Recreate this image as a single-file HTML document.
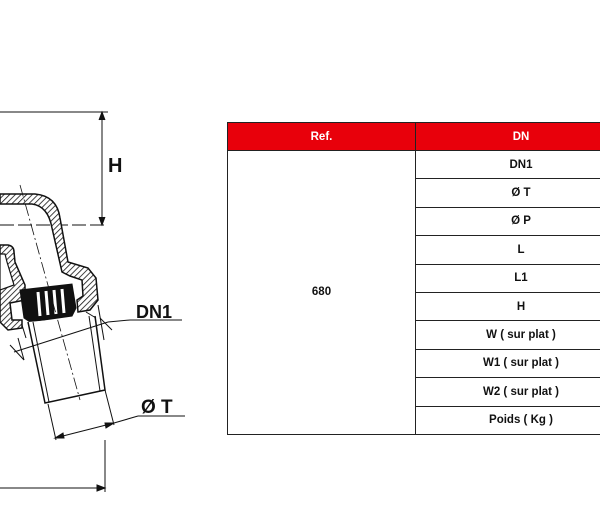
<!DOCTYPE html>
<html><head><meta charset="utf-8"><style>
html,body{margin:0;padding:0;background:#fff;}
body{width:600px;height:518px;position:relative;overflow:hidden;font-family:"Liberation Sans",Arial,sans-serif;}
table{position:absolute;left:227px;top:122px;border-collapse:collapse;width:400px;}
td{border:1px solid #222;text-align:center;font-weight:bold;font-size:11.5px;padding:0;color:#111;}
th{background:#e8000b;color:#fff;font-size:11.5px;font-weight:bold;height:27px;border:1px solid #222;padding:0;}
td.r{height:27.4px;}
</style></head><body>
<svg width="600" height="518" style="position:absolute;left:0;top:0">
<defs>
<pattern id="h" width="4" height="4" patternUnits="userSpaceOnUse" patternTransform="rotate(45)">
<rect width="4" height="4" fill="#fff"/><line x1="0" y1="0" x2="0" y2="4" stroke="#111" stroke-width="1.6"/></pattern>
</defs>
<g stroke="#111" fill="none" stroke-width="1">
<!-- dimension H -->
<line x1="0" y1="112" x2="108" y2="112"/>
<line x1="102" y1="112" x2="102" y2="225"/>
<path d="M99 120 L102 112 L105 120" fill="#111"/>
<path d="M99 217 L102 225 L105 217" fill="#111"/>
<line x1="0" y1="225" x2="108" y2="225" stroke-dasharray="14,4"/>
<!-- elbow body hatched -->
<path d="M0 194 L35 194 Q57 196 60 218 L68 262 L88 268 L96 278 L98 300 L90 310 L78 312 L77 300 L83 296 L82 280 L70 276 L62 272 L52 228 Q48 206 32 204 L0 204 Z" fill="url(#h)" stroke-width="1.5"/>
<!-- left inner part -->
<path d="M0 245 L8 245 Q14 246 14 252 L15 262 L25 285 L25 300 L10 303 L12 320 L22 320 L22 328 L8 330 L0 322 Z" fill="url(#h)" stroke-width="1.5"/>
<path d="M0 254 L5 254 L7 262 L14 285 L0 290 Z" fill="#fff" stroke-width="1.2"/>
<!-- gasket/insert black -->
<path d="M20 290 L72 284 L76 308 L72 316 L30 322 L24 318 Z" fill="#111"/>
<g stroke="#fff" stroke-width="3">
<line x1="38" y1="292" x2="40" y2="316"/>
<line x1="46" y1="291" x2="48" y2="315"/>
<line x1="54" y1="290" x2="56" y2="314"/>
<line x1="62" y1="289" x2="64" y2="313"/>
</g>
<!-- pipe -->
<path d="M28 322 L45 403 L105 390 L95 316" fill="#fff" stroke-width="1.5"/>
<path d="M33 322 L49 402" stroke-width="1"/>
<path d="M89 316 L100 391" stroke-width="1"/>
<path d="M22 325 L26 338 M86 312 L96 318" />
<!-- center line -->
<line x1="20" y1="185" x2="80" y2="400" stroke-dasharray="12,3,2,3" stroke-width="0.8"/>
<!-- DN1 dim -->
<line x1="14" y1="352" x2="108" y2="322"/>
<line x1="108" y1="322" x2="130" y2="320"/>
<line x1="130" y1="320" x2="182" y2="320"/>
<line x1="10" y1="345" x2="24" y2="360"/><line x1="100" y1="318" x2="112" y2="330"/>
<line x1="18" y1="338" x2="24" y2="360"/><line x1="98" y1="305" x2="104" y2="340"/>
<!-- OT dim -->
<line x1="48" y1="404" x2="56" y2="440"/>
<line x1="105" y1="390" x2="114" y2="425"/>
<line x1="55" y1="438" x2="114" y2="423"/>
<path d="M55 438 L63 433 L64 438Z" fill="#111"/><path d="M114 423 L106 428 L105 423Z" fill="#111"/>
<line x1="114" y1="423" x2="138" y2="416"/>
<line x1="138" y1="416" x2="185" y2="416"/>
<!-- bottom dim -->
<line x1="105" y1="440" x2="105" y2="492"/>
<line x1="0" y1="488" x2="105" y2="488"/>
<path d="M97 485 L105 488 L97 491Z" fill="#111"/>
</g>
<text x="108" y="172" font-family="Liberation Sans" font-weight="bold" font-size="20" fill="#111">H</text>
<text x="136" y="318" font-family="Liberation Sans" font-weight="bold" font-size="18" fill="#111">DN1</text>
<text x="141" y="413" font-family="Liberation Sans" font-weight="bold" font-size="19" fill="#111">Ø T</text>
</svg>
<table>
<tr><th style="width:187px">Ref.</th><th>DN</th></tr>
<tr><td rowspan="10" style="vertical-align:middle">680</td><td class="r">DN1</td></tr>
<tr><td class="r">Ø T</td></tr>
<tr><td class="r">Ø P</td></tr>
<tr><td class="r">L</td></tr>
<tr><td class="r">L1</td></tr>
<tr><td class="r">H</td></tr>
<tr><td class="r">W ( sur plat )</td></tr>
<tr><td class="r">W1 ( sur plat )</td></tr>
<tr><td class="r">W2 ( sur plat )</td></tr>
<tr><td class="r">Poids ( Kg )</td></tr>
</table>
</body></html>
